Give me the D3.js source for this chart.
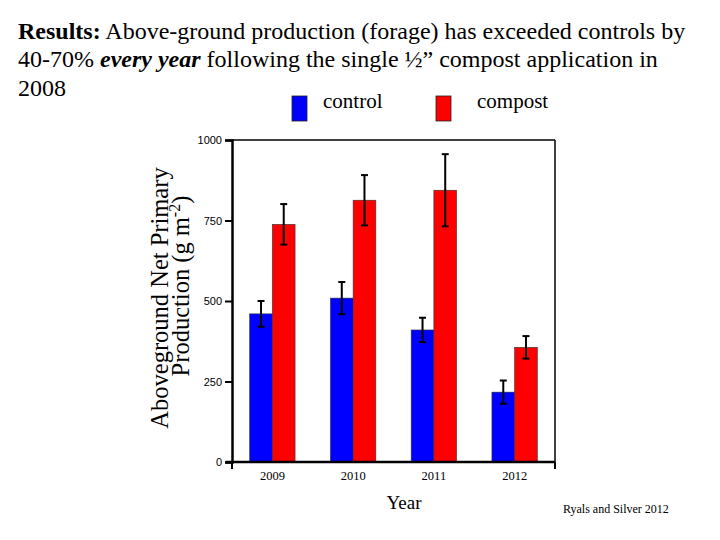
<!DOCTYPE html>
<html><head><meta charset="utf-8">
<script src="https://cdn.jsdelivr.net/npm/d3@7"></script>
<style>body{margin:0;background:#fff;} svg{display:block;}</style>
</head><body>
<script>
const years = ["2009", "2010", "2011", "2012"];
const controlValues = [460, 509, 410, 217];
const compostValues = [738, 813, 844, 356];
const controlErrors = [40, 50, 38, 36];
const compostErrors = [63, 78, 112, 35];
const yTicks = [0, 250, 500, 750, 1000];
const seriesNames = ["control", "compost"];
const seriesColors = ["#0000ff", "#ff0000"];

(function () {
const W = 720, H = 540;
const svg = d3.select("body").append("svg").attr("width", W).attr("height", H);
const serif = "'Liberation Serif','Times New Roman',serif";
const sans = "'Liberation Sans',Arial,sans-serif";

// Title
const title = svg.append("text").attr("font-family", serif).attr("font-size", 24).attr("fill", "#000");
const t1 = title.append("tspan").attr("x", 18).attr("y", 39);
t1.append("tspan").attr("font-weight", "bold").text("Results:");
t1.append("tspan").text(" Above-ground production (forage) has exceeded controls by");
const t2 = title.append("tspan").attr("x", 18).attr("y", 67);
t2.append("tspan").text("40-70% ");
t2.append("tspan").attr("font-weight", "bold").attr("font-style", "italic").text("every year");
t2.append("tspan").text(" following the single \u00bd\u201d compost application in");
title.append("tspan").attr("x", 18).attr("y", 96).text("2008");

// Legend
const legendX = [292, 436];
const legendTextX = [323, 477];
seriesNames.forEach((n, i) => {
  svg.append("rect").attr("x", legendX[i]).attr("y", 96).attr("width", 15).attr("height", 25)
    .attr("fill", seriesColors[i]).attr("stroke", "#222").attr("stroke-width", 0.8);
  svg.append("text").attr("x", legendTextX[i]).attr("y", 108).attr("font-family", serif)
    .attr("font-size", 21).text(n);
});

// Scales
const pLeft = 232, pRight = 555, pTop = 140, pBottom = 462;
const x0 = d3.scaleBand().domain(years).range([pLeft, pRight]).paddingInner(0.438).paddingOuter(0.219);
const x1 = d3.scaleBand().domain(seriesNames).range([0, x0.bandwidth()]).padding(0);
const y = d3.scaleLinear().domain([0, 1000]).range([pBottom, pTop]);

// Frame (top, right)
svg.append("line").attr("x1", pLeft).attr("x2", pRight).attr("y1", pTop).attr("y2", pTop).attr("stroke", "#000").attr("stroke-width", 1.5);
svg.append("line").attr("x1", pRight).attr("x2", pRight).attr("y1", pTop).attr("y2", pBottom).attr("stroke", "#000").attr("stroke-width", 1.5);

// Bars
const data = years.map((yr, i) => ({
  year: yr,
  vals: [
    {s: "control", v: controlValues[i], e: controlErrors[i], c: seriesColors[0]},
    {s: "compost", v: compostValues[i], e: compostErrors[i], c: seriesColors[1]}
  ]
}));
const g = svg.append("g");
const groups = g.selectAll("g.year").data(data).join("g").attr("transform", d => `translate(${x0(d.year)},0)`);
groups.selectAll("rect").data(d => d.vals).join("rect")
  .attr("x", d => x1(d.s)).attr("width", x1.bandwidth())
  .attr("y", d => y(d.v)).attr("height", d => y(0) - y(d.v))
  .attr("fill", d => d.c).attr("stroke", "#333").attr("stroke-width", 0.6);
// Error bars
const eb = groups.selectAll("g.err").data(d => d.vals).join("g").attr("class", "err");
eb.append("line").attr("x1", d => x1(d.s) + x1.bandwidth() / 2).attr("x2", d => x1(d.s) + x1.bandwidth() / 2)
  .attr("y1", d => y(d.v + d.e)).attr("y2", d => y(d.v - d.e)).attr("stroke", "#000").attr("stroke-width", 2);
[1, -1].forEach(sgn => {
  eb.append("line").attr("x1", d => x1(d.s) + x1.bandwidth() / 2 - 3.5).attr("x2", d => x1(d.s) + x1.bandwidth() / 2 + 3.5)
    .attr("y1", d => y(d.v + sgn * d.e)).attr("y2", d => y(d.v + sgn * d.e)).attr("stroke", "#000").attr("stroke-width", 2);
});

// Y axis
const yAxis = svg.append("g").attr("transform", `translate(${pLeft},0)`)
  .call(d3.axisLeft(y).tickValues(yTicks).tickSize(7).tickPadding(3).tickFormat(d3.format("d")));
yAxis.select(".domain").attr("stroke-width", 2.5);
yAxis.selectAll(".tick line").attr("stroke-width", 2);
yAxis.selectAll("text").attr("font-family", sans).attr("font-size", 11).attr("fill", "#000");

// X axis
const xAxis = svg.append("g").attr("transform", `translate(0,${pBottom})`)
  .call(d3.axisBottom(x0).tickSize(0).tickPadding(9));
xAxis.select(".domain").attr("stroke-width", 2.5).attr("d", `M${pLeft - 6},0H${pRight}`);
xAxis.selectAll("text").attr("font-family", serif).attr("font-size", 12.5).attr("fill", "#000");
[pLeft, pRight].forEach(xx => svg.append("line").attr("x1", xx).attr("x2", xx).attr("y1", pBottom).attr("y2", pBottom + 7).attr("stroke", "#000").attr("stroke-width", 2));

// Y title
svg.append("text").attr("transform", "translate(168,298) rotate(-90)").attr("font-family", serif)
  .attr("font-size", 24.5).attr("text-anchor", "middle").text("Aboveground Net Primary");
const yt2 = svg.append("text").attr("transform", "translate(189,286) rotate(-90)").attr("font-family", serif)
  .attr("font-size", 24.5).attr("text-anchor", "middle");
yt2.append("tspan").text("Production (g m");
yt2.append("tspan").attr("font-size", 16).attr("dy", -9).text("-2");
yt2.append("tspan").attr("dy", 9).text(")");

// X title
svg.append("text").attr("x", 404).attr("y", 509).attr("font-family", serif).attr("font-size", 19)
  .attr("text-anchor", "middle").text("Year");

// Source
svg.append("text").attr("x", 563).attr("y", 513).attr("font-family", serif).attr("font-size", 12).text("Ryals and Silver 2012");
})();
</script>
</body></html>
